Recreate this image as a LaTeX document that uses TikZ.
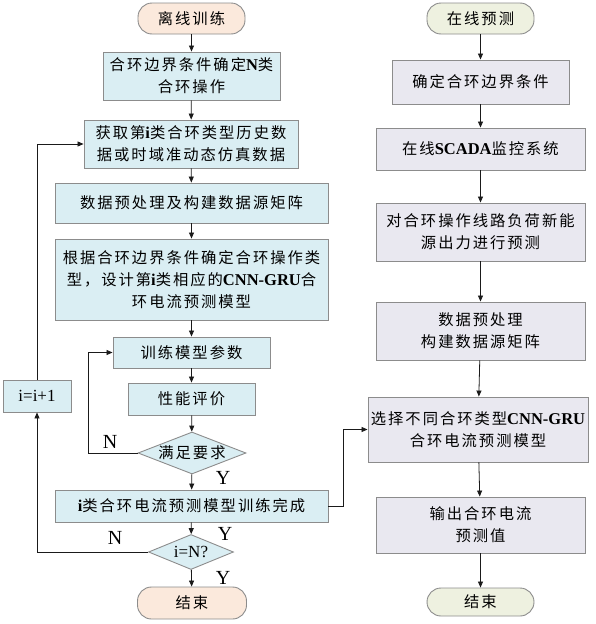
\documentclass[tikz,border=0pt]{standalone}
\usepackage{fontspec}
\setmainfont{Noto Sans CJK SC}[LetterSpace=13]
\newfontfamily\latf{Liberation Serif}
\usetikzlibrary{shapes.geometric,arrows.meta}
\newcommand\lb[1]{{\latf\bfseries\fontsize{16.5}{22}\selectfont #1}}
\newcommand\lr[1]{{\latf\fontsize{17}{22}\selectfont #1}}
\definecolor{peach}{HTML}{FBE9DC}
\definecolor{lgreen}{HTML}{EEF1E0}
\definecolor{lblue}{HTML}{DAEEF3}
\definecolor{lgrey}{HTML}{E9E8F0}
\definecolor{bord}{HTML}{8C8C8C}
\definecolor{ln}{HTML}{1A1A1A}
\tikzset{
  base/.style={draw=bord, line width=0.9pt, inner sep=0pt, align=center,
    font=\fontsize{15.3}{22}\selectfont},
  lbox/.style={base, rectangle, fill=lblue},
  rbox/.style={base, rectangle, fill=lgrey},
  term/.style={base, rectangle, rounded corners=14pt},
  dia/.style={base, diamond, fill=lblue},
  arr/.style={draw=ln, line width=0.8pt, -{Triangle[length=6pt,width=5pt]}},
  yn/.style={font=\latf\fontsize{20}{20}\selectfont, inner sep=0pt}
}
\begin{document}
\begin{tikzpicture}[x=1pt,y=-1pt]
\useasboundingbox (0,0) rectangle (595,624);
% left column
\node[term, fill=peach, minimum width=107, minimum height=31] (t1) at (191.5,18.5) {离线训练};
\node[lbox, minimum width=177, minimum height=48] (b1) at (191.5,76) {合环边界条件确定\lb{N}类\\合环操作};
\node[lbox, minimum width=214, minimum height=48] (b2) at (191,144) {获取第\lb{i}类合环类型历史数\\据或时域准动态仿真数据};
\node[lbox, minimum width=273, minimum height=40] (b3) at (191.5,203) {数据预处理及构建数据源矩阵};
\node[lbox, minimum width=273, minimum height=81] (b4) at (191.5,279.5) {根据合环边界条件确定合环操作类\\型，设计第\lb{i}类相应的\lb{CNN-GRU}合\\环电流预测模型};
\node[lbox, minimum width=157, minimum height=31] (b5) at (191.5,352.5) {训练模型参数};
\node[lbox, minimum width=127, minimum height=32] (b6) at (191.5,399) {性能评价};
\node[dia, minimum width=108, minimum height=42] (d1) at (192,453) {\makebox[0pt]{满足要求}};
\node[lbox, minimum width=273, minimum height=32] (b7) at (191.5,506) {\lb{i}类合环电流预测模型训练完成};
\node[dia, minimum width=85, minimum height=35] (d2) at (191,552) {\makebox[0pt]{\lr{i=N?}}};
\node[term, fill=peach, minimum width=109, minimum height=32] (t2) at (192,603) {结束};
\node[lbox, minimum width=68, minimum height=32] (inc) at (37,396) {\lr{i=i+1}};
% right column
\node[term, fill=lgreen, minimum width=107, minimum height=31] (rt1) at (480.5,18.5) {在线预测};
\node[rbox, minimum width=177, minimum height=44] (r1) at (480.5,82) {确定合环边界条件};
\node[rbox, minimum width=209, minimum height=42] (r2) at (480.5,149) {在线\lb{SCADA}监控系统};
\node[rbox, minimum width=209, minimum height=58] (r3) at (480.5,232) {对合环操作线路负荷新能\\源出力进行预测};
\node[rbox, minimum width=209, minimum height=58] (r4) at (480.5,331) {数据预处理\\构建数据源矩阵};
\node[rbox, minimum width=220, minimum height=65] (r5) at (478,429.5) {选择不同合环类型\lb{CNN-GRU}\\合环电流预测模型};
\node[rbox, minimum width=209, minimum height=56] (r6) at (480.5,525) {输出合环电流\\预测值};
\node[term, fill=lgreen, minimum width=107, minimum height=28] (rt2) at (480.5,602) {结束};
% coordinates
\coordinate (c1) at (88,453);
\coordinate (c2) at (88,352.5);
\coordinate (c3) at (37,552);
\coordinate (c4) at (37,144);
\coordinate (c5) at (343,506);
\coordinate (c6) at (343,429.5);
% arrows left
\draw[arr] (t1) -- (b1);
\draw[arr] (b1) -- (b2);
\draw[arr] (b2) -- (b3);
\draw[arr] (b3) -- (b4);
\draw[arr] (b4) -- (b5);
\draw[arr] (b5) -- (b6);
\draw[arr] (b6) -- (d1);
\draw[arr] (d1) -- (b7);
\draw[arr] (b7) -- (d2);
\draw[arr] (d2) -- (t2);
\draw[arr] (d1.west) -- (c1) -- (c2) -- (b5.west);
\draw[arr] (d2.west) -- (c3) -- (inc.south);
\draw[arr] (inc.north) -- (c4) -- (b2.west);
\draw[arr] (b7.east) -- (c5) -- (c6) -- (r5.west);
% arrows right
\draw[arr] (rt1) -- (r1);
\draw[arr] (r1) -- (r2);
\draw[arr] (r2) -- (r3);
\draw[arr] (r3) -- (r4);
\draw[arr] (r4) -- (r5);
\draw[arr] (r5) -- (r6);
\draw[arr] (r6) -- (rt2);
% labels
\node[yn] (n1) at (110,442) {N};
\node[yn] (y1) at (223,478) {Y};
\node[yn] (y2) at (225,534) {Y};
\node[yn] (n2) at (115,538) {N};
\node[yn] (y3) at (223,578) {Y};
\end{tikzpicture}
\end{document}
